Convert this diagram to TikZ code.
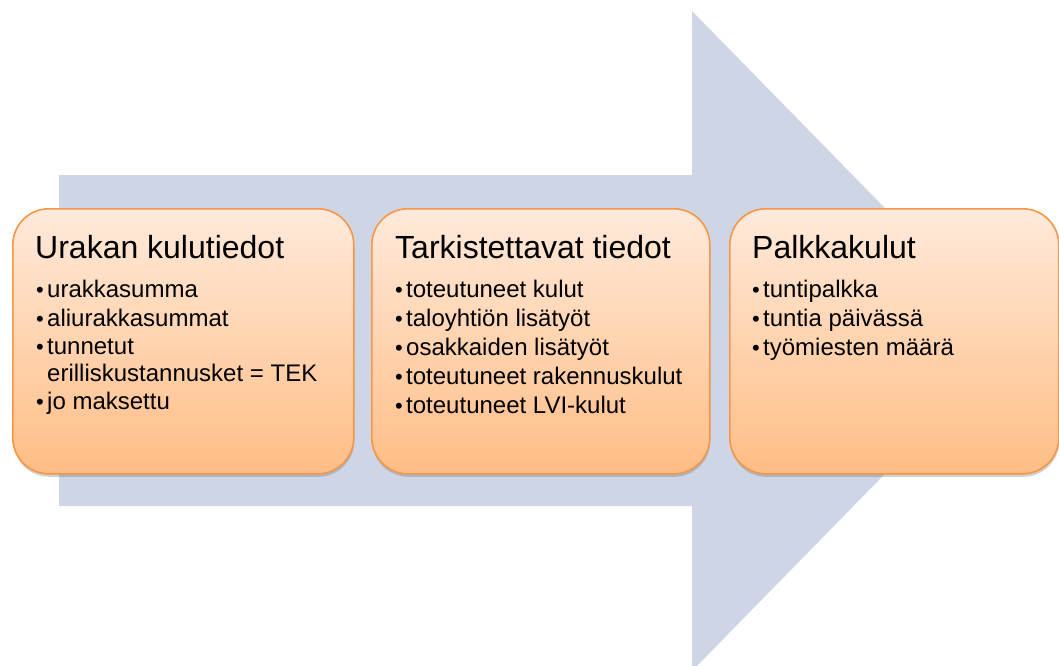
\documentclass[tikz,border=0pt]{standalone}
\usepackage{fontspec}
\setmainfont{Liberation Sans}
\usetikzlibrary{shadows}
\definecolor{arrowfill}{HTML}{CED6E6}
\definecolor{boxline}{HTML}{F79646}
\definecolor{boxtop}{HTML}{FFEADB}
\definecolor{boxbot}{HTML}{FFBD85}
\tikzset{
  stagebox/.style={draw=boxline, line width=1.6pt, rounded corners=36pt,
    top color=boxtop, bottom color=boxbot, anchor=north west,
    minimum height=265pt, inner sep=0pt,
    drop shadow={shadow xshift=0.5pt, shadow yshift=-3pt, opacity=0.3, fill=black!60}},
  ttl/.style={font=\fontsize{32}{36}\selectfont, anchor=base west, inner sep=0pt},
  itm/.style={font=\fontsize{24}{28}\selectfont, anchor=base west, inner sep=0pt},
  bul/.style={font=\fontsize{22}{26}\selectfont, anchor=base west, inner sep=0pt},
}
\begin{document}
\begin{tikzpicture}[x=1pt,y=-1pt]
\useasboundingbox (0,0) rectangle (1059,665);
% big arrow
\fill[arrowfill] (59,175) -- (692,175) -- (692,11) -- (1015,341) -- (692,671) -- (692,506) -- (59,506) -- cycle;
% boxes
\node[stagebox, minimum width=341pt] (b1) at (12,208) {};
\node[stagebox, minimum width=338pt] (b2) at (371,208) {};
\node[stagebox, minimum width=329pt] (b3) at (729,208) {};
% box 1
\node[ttl] (t1) at (35,258) {Urakan kulutiedot};
\node[bul] (p11) at (36,297) {•}; \node[itm] (i11) at (47,297) {urakkasumma};
\node[bul] (p12) at (36,326) {•}; \node[itm] (i12) at (47,326) {aliurakkasummat};
\node[bul] (p13) at (36,354) {•}; \node[itm] (i13) at (47,354) {tunnetut};
\node[itm] (i14) at (47,381) {erilliskustannusket = TEK};
\node[bul] (p15) at (36,409) {•}; \node[itm] (i15) at (47,409) {jo maksettu};
% box 2
\node[ttl] (t2) at (395,258) {Tarkistettavat tiedot};
\node[bul] (p21) at (395,297) {•}; \node[itm] (i21) at (406,297) {toteutuneet kulut};
\node[bul] (p22) at (395,326) {•}; \node[itm] (i22) at (406,326) {taloyhtiön lisätyöt};
\node[bul] (p23) at (395,355) {•}; \node[itm] (i23) at (406,355) {osakkaiden lisätyöt};
\node[bul] (p24) at (395,384) {•}; \node[itm] (i24) at (406,384) {toteutuneet rakennuskulut};
\node[bul] (p25) at (395,413) {•}; \node[itm] (i25) at (406,413) {toteutuneet LVI-kulut};
% box 3
\node[ttl] (t3) at (752,258) {Palkkakulut};
\node[bul] (p31) at (752,297) {•}; \node[itm] (i31) at (763,297) {tuntipalkka};
\node[bul] (p32) at (752,326) {•}; \node[itm] (i32) at (763,326) {tuntia päivässä};
\node[bul] (p33) at (752,355) {•}; \node[itm] (i33) at (763,355) {työmiesten määrä};
\end{tikzpicture}
\end{document}
